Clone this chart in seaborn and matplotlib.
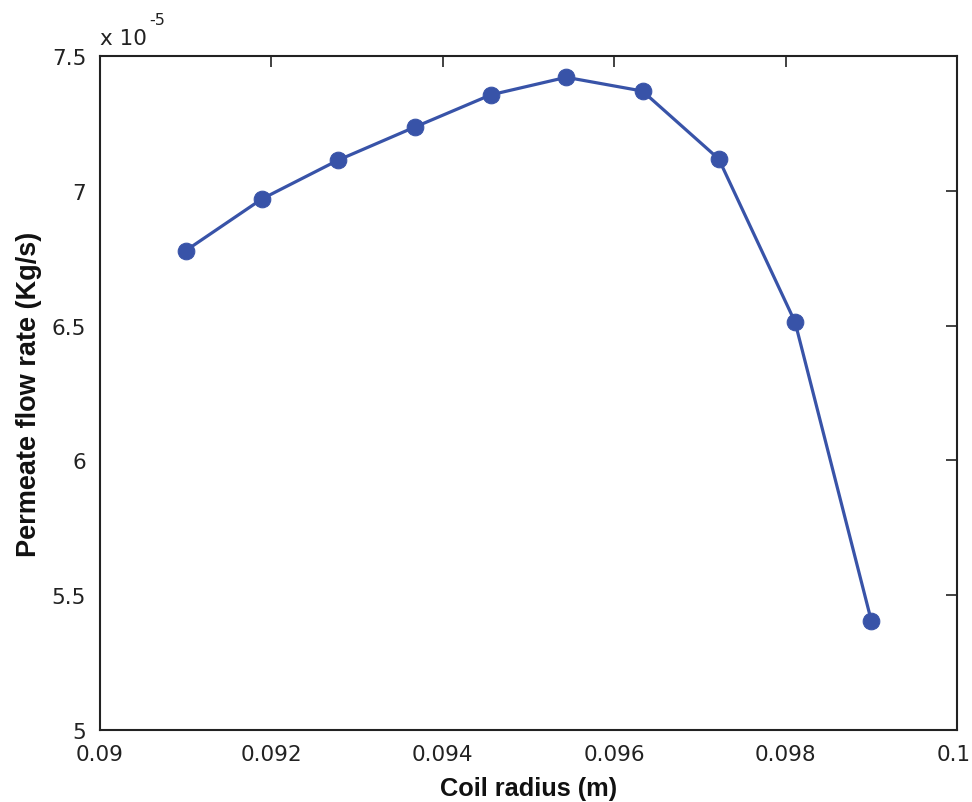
import matplotlib
matplotlib.use("Agg")
import matplotlib.pyplot as plt
import matplotlib.transforms as mtransforms
import seaborn as sns
import pandas as pd

coil_radius = [0.0910, 0.09189, 0.09278, 0.09367, 0.09456, 0.09544, 0.09633, 0.09722, 0.09811, 0.0990]
flow_rate_e5 = [6.778, 6.970, 7.114, 7.236, 7.356, 7.421, 7.370, 7.118, 6.513, 5.405]
x_ticks = [0.09, 0.092, 0.094, 0.096, 0.098, 0.1]
x_tick_labels = ["0.09", "0.092", "0.094", "0.096", "0.098", "0.1"]
y_ticks = [5, 5.5, 6, 6.5, 7, 7.5]
y_tick_labels = ["5", "5.5", "6", "6.5", "7", "7.5"]

df = pd.DataFrame({"Coil radius (m)": coil_radius, "flow": flow_rate_e5})

sns.set_style("white")
plt.rcParams["font.family"] = ["DejaVu Sans"]

fig = plt.figure(figsize=(9.72, 8.03), dpi=100)
ax = fig.add_axes([0.1029, 0.0897, 0.8817, 0.8393])

color = "#3853A8"
sns.lineplot(data=df, x="Coil radius (m)", y="flow", ax=ax, color=color,
             linewidth=2.3, marker="o", markersize=12, markeredgecolor=color,
             markerfacecolor=color)

ax.set_xlim(0.09, 0.1)
ax.set_ylim(5, 7.5)
ax.set_xticks(x_ticks)
ax.set_xticklabels(x_tick_labels)
ax.set_yticks(y_ticks)
ax.set_yticklabels(y_tick_labels)

ax.tick_params(direction="in", length=8, width=1.2, top=True, right=True,
               labelsize=15.5, colors="#222222")
ax.tick_params(axis="y", pad=10)
ax.tick_params(axis="x", pad=10)
for s in ax.spines.values():
    s.set_color("#222222")
    s.set_linewidth(1.5)

# nudge the last x tick label so it stays inside the canvas
last = ax.get_xticklabels()[-1]
last.set_transform(last.get_transform() +
                   mtransforms.ScaledTranslation(-3 / 100, 0, fig.dpi_scale_trans))

ax.set_xlabel("Coil radius (m)", fontsize=18.3, fontweight="bold",
              family=["Liberation Sans"], labelpad=9, color="#111111")
ax.set_ylabel("Permeate flow rate (Kg/s)", fontsize=19.5, fontweight="bold",
              family=["Liberation Sans"], labelpad=7, color="#111111")

ax.text(0.0, 1.012, "x 10", transform=ax.transAxes, fontsize=15.5,
        ha="left", va="bottom", color="#222222")
ax.text(0.057, 1.043, "-5", transform=ax.transAxes, fontsize=11.5,
        ha="left", va="bottom", color="#222222")

fig.savefig("out.png", dpi=100, facecolor="white")
